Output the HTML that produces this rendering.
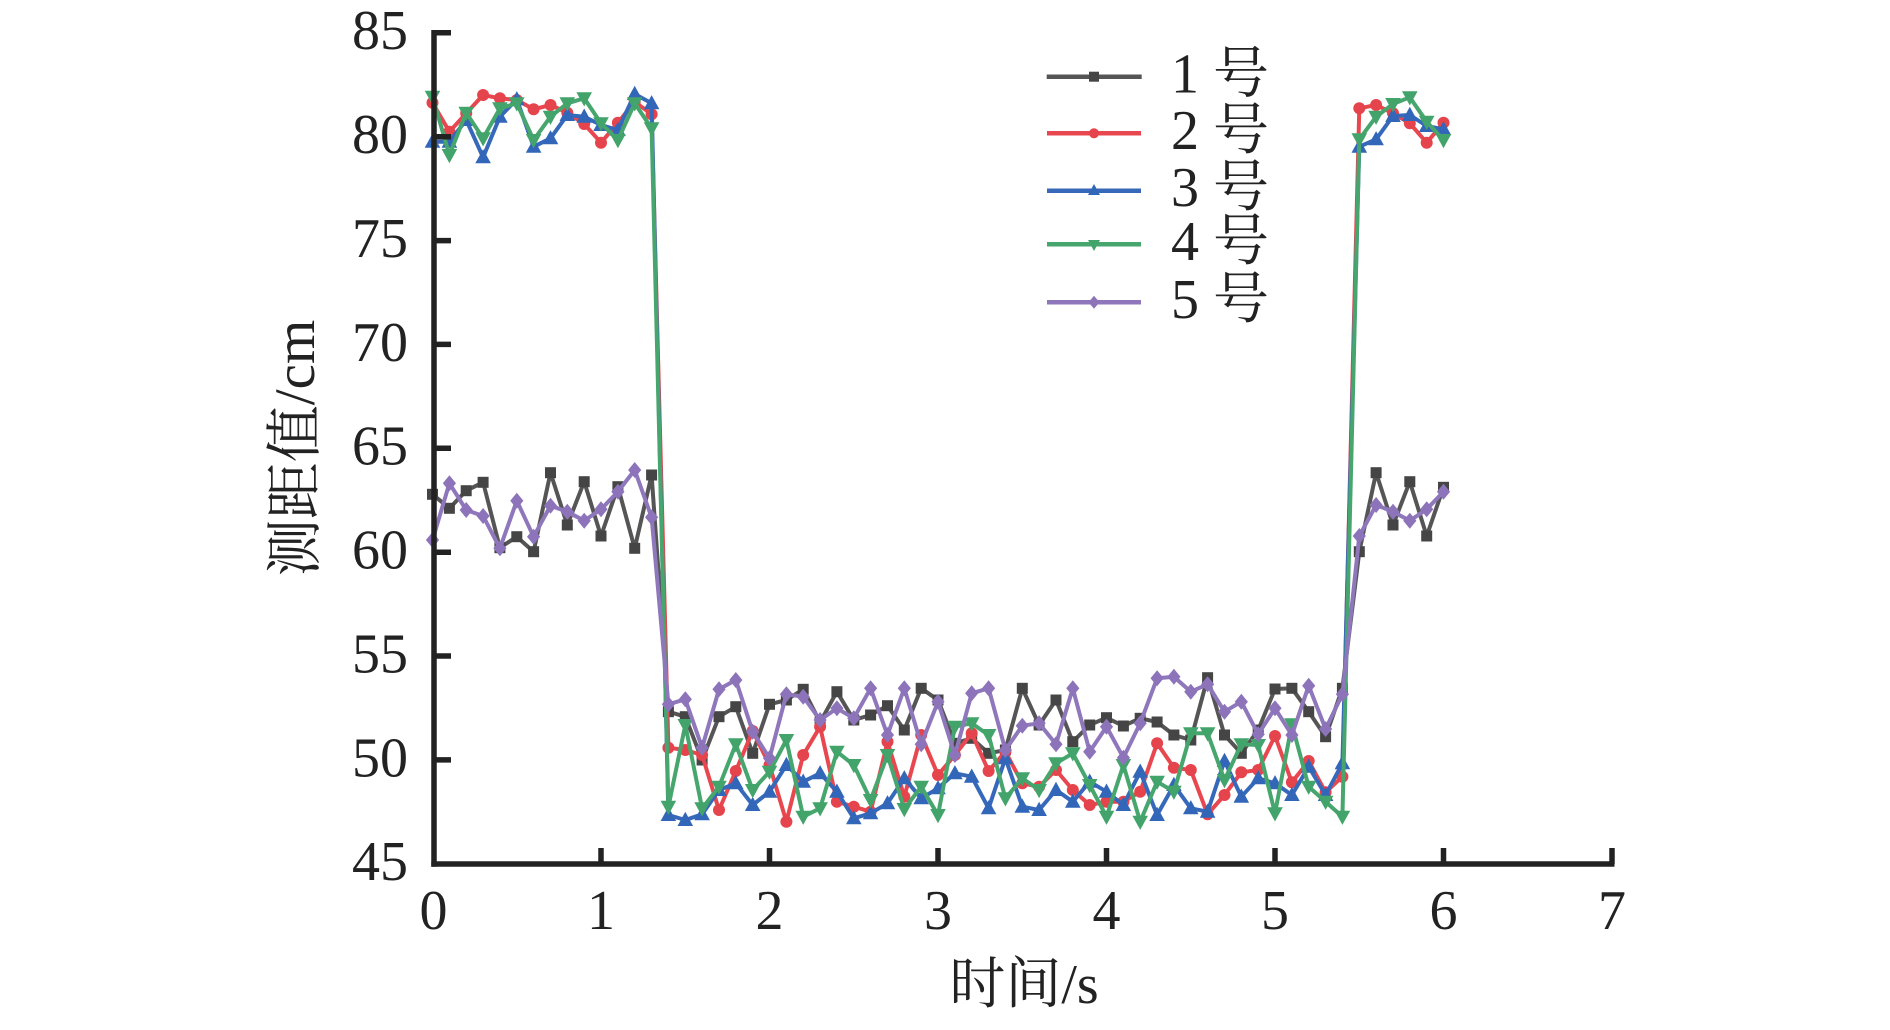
<!DOCTYPE html>
<html><head><meta charset="utf-8"><style>
html,body{margin:0;padding:0;background:#fff;}
svg{display:block;}
text{font-family:"Liberation Serif","Noto Serif CJK SC",serif;fill:#222;}
</style></head><body>
<svg width="1890" height="1030" viewBox="0 0 1890 1030" xmlns="http://www.w3.org/2000/svg">
<defs>
<marker id="mSq" viewBox="-8 -8 16 16" markerWidth="16" markerHeight="16" refX="0" refY="0" markerUnits="userSpaceOnUse"><rect x="-5.5" y="-5.5" width="11" height="11" fill="#454545"/></marker>
<marker id="mCi" viewBox="-8 -8 16 16" markerWidth="16" markerHeight="16" refX="0" refY="0" markerUnits="userSpaceOnUse"><circle r="6" fill="#e5444c"/></marker>
<marker id="mUp" viewBox="-10 -10 20 20" markerWidth="20" markerHeight="20" refX="0" refY="0" markerUnits="userSpaceOnUse"><polygon points="0,-8.2 7.8,6 -7.8,6" fill="#3266b8"/></marker>
<marker id="mDn" viewBox="-10 -10 20 20" markerWidth="20" markerHeight="20" refX="0" refY="0" markerUnits="userSpaceOnUse"><polygon points="0,8.2 7.8,-6 -7.8,-6" fill="#42a46a"/></marker>
<marker id="mDi" viewBox="-10 -10 20 20" markerWidth="20" markerHeight="20" refX="0" refY="0" markerUnits="userSpaceOnUse"><polygon points="0,-8 6.6,0 0,8 -6.6,0" fill="#8d74ba"/></marker>
</defs>

<!-- series 1 gray -->
<polyline fill="none" stroke="#555" stroke-width="4" stroke-linejoin="round" marker-start="url(#mSq)" marker-mid="url(#mSq)" marker-end="url(#mSq)" points="432.5,494.3 449.4,508.3 466.2,490.7 483.1,482.3 499.9,547.7 516.8,536.7 533.6,551.7 550.5,472.7 567.3,525.0 584.2,481.7 601.0,536.0 617.9,486.7 634.7,548.3 651.6,475.0 668.4,711.7 685.3,716.7 702.1,760.0 719.0,716.7 735.8,706.7 752.7,753.3 769.5,704.3 786.4,700.0 803.2,689.3 820.1,722.3 836.9,691.7 853.8,720.0 870.6,715.0 887.5,705.7 904.3,730.0 921.2,688.3 938.0,700.0 954.9,743.3 971.7,738.3 988.6,753.3 1005.4,750.0 1022.3,688.3 1039.1,725.0 1056.0,700.0 1072.8,741.7 1089.7,725.0 1106.5,717.7 1123.4,726.0 1140.2,718.3 1157.1,722.0 1173.9,735.0 1190.8,740.0 1207.6,677.7 1224.5,735.0 1241.3,753.3 1258.2,730.0 1275.0,689.0 1291.9,688.3 1308.7,711.7 1325.6,736.7 1342.4,688.3 1359.3,551.7 1376.1,472.7 1393.0,525.0 1409.8,481.7 1426.7,536.0 1443.5,487.3"/>

<!-- series 2 red -->
<polyline fill="none" stroke="#e8474f" stroke-width="4" stroke-linejoin="round" marker-start="url(#mCi)" marker-mid="url(#mCi)" marker-end="url(#mCi)" points="432.5,102.7 449.4,131.7 466.2,113.3 483.1,95.0 499.9,98.3 516.8,100.0 533.6,109.3 550.5,105.0 567.3,112.7 584.2,124.0 601.0,142.7 617.9,122.7 634.7,101.7 651.6,114.3 668.4,747.7 685.3,750.0 702.1,755.0 719.0,810.0 735.8,771.0 752.7,731.0 769.5,765.0 786.4,821.7 803.2,755.0 820.1,726.7 836.9,801.7 853.8,806.7 870.6,811.7 887.5,741.7 904.3,796.7 921.2,735.0 938.0,775.0 954.9,755.0 971.7,733.3 988.6,771.0 1005.4,751.7 1022.3,783.3 1039.1,786.7 1056.0,770.0 1072.8,790.0 1089.7,805.0 1106.5,801.7 1123.4,801.7 1140.2,791.7 1157.1,743.3 1173.9,767.7 1190.8,770.0 1207.6,814.3 1224.5,795.0 1241.3,772.3 1258.2,770.0 1275.0,736.0 1291.9,782.3 1308.7,761.0 1325.6,792.3 1342.4,776.7 1359.3,108.3 1376.1,105.0 1393.0,113.3 1409.8,123.3 1426.7,142.7 1443.5,122.7"/>

<!-- series 3 blue -->
<polyline fill="none" stroke="#3769ba" stroke-width="4" stroke-linejoin="round" marker-start="url(#mUp)" marker-mid="url(#mUp)" marker-end="url(#mUp)" points="432.5,141.7 449.4,141.7 466.2,120.0 483.1,157.3 499.9,116.7 516.8,99.3 533.6,146.7 550.5,138.3 567.3,115.0 584.2,116.7 601.0,125.0 617.9,130.0 634.7,94.0 651.6,103.3 668.4,815.0 685.3,820.0 702.1,814.3 719.0,790.0 735.8,783.3 752.7,805.0 769.5,791.7 786.4,765.0 803.2,781.7 820.1,773.3 836.9,791.7 853.8,818.3 870.6,813.3 887.5,803.3 904.3,778.3 921.2,798.3 938.0,788.3 954.9,773.3 971.7,776.7 988.6,808.3 1005.4,758.3 1022.3,806.7 1039.1,810.0 1056.0,790.0 1072.8,801.7 1089.7,781.7 1106.5,791.7 1123.4,805.0 1140.2,771.7 1157.1,815.0 1173.9,785.0 1190.8,808.3 1207.6,811.7 1224.5,761.0 1241.3,796.7 1258.2,778.3 1275.0,783.3 1291.9,795.0 1308.7,766.7 1325.6,795.0 1342.4,763.3 1359.3,146.7 1376.1,139.3 1393.0,116.0 1409.8,115.0 1426.7,126.0 1443.5,129.3"/>

<!-- series 4 green -->
<polyline fill="none" stroke="#46a66d" stroke-width="4" stroke-linejoin="round" marker-start="url(#mDn)" marker-mid="url(#mDn)" marker-end="url(#mDn)" points="432.5,96.7 449.4,155.0 466.2,112.7 483.1,138.3 499.9,108.3 516.8,103.3 533.6,140.0 550.5,116.7 567.3,103.3 584.2,98.3 601.0,123.3 617.9,140.0 634.7,103.3 651.6,128.3 668.4,806.7 685.3,725.0 702.1,808.3 719.0,786.7 735.8,744.3 752.7,790.0 769.5,771.7 786.4,740.0 803.2,816.7 820.1,808.3 836.9,751.7 853.8,765.0 870.6,800.0 887.5,755.0 904.3,809.0 921.2,786.7 938.0,815.0 954.9,726.7 971.7,723.3 988.6,735.0 1005.4,798.3 1022.3,778.3 1039.1,790.0 1056.0,763.3 1072.8,753.3 1089.7,785.0 1106.5,816.7 1123.4,765.0 1140.2,821.7 1157.1,781.7 1173.9,791.7 1190.8,733.3 1207.6,733.3 1224.5,780.0 1241.3,744.3 1258.2,745.0 1275.0,813.3 1291.9,724.3 1308.7,786.7 1325.6,801.7 1342.4,816.7 1359.3,139.3 1376.1,116.7 1393.0,104.0 1409.8,97.3 1426.7,121.7 1443.5,140.0"/>

<!-- series 5 purple -->
<polyline fill="none" stroke="#8f77bc" stroke-width="4" stroke-linejoin="round" marker-start="url(#mDi)" marker-mid="url(#mDi)" marker-end="url(#mDi)" points="432.5,540.0 449.4,483.3 466.2,510.0 483.1,516.0 499.9,548.3 516.8,500.7 533.6,536.7 550.5,505.7 567.3,511.7 584.2,520.7 601.0,509.3 617.9,491.7 634.7,470.0 651.6,517.3 668.4,704.3 685.3,699.3 702.1,747.7 719.0,689.3 735.8,680.0 752.7,731.7 769.5,758.3 786.4,694.3 803.2,696.7 820.1,720.0 836.9,708.3 853.8,718.3 870.6,688.3 887.5,735.0 904.3,688.3 921.2,744.3 938.0,701.7 954.9,755.0 971.7,693.3 988.6,688.3 1005.4,750.0 1022.3,725.7 1039.1,723.3 1056.0,744.3 1072.8,688.3 1089.7,751.7 1106.5,726.7 1123.4,757.7 1140.2,723.3 1157.1,678.3 1173.9,676.7 1190.8,691.7 1207.6,684.3 1224.5,711.7 1241.3,701.7 1258.2,734.3 1275.0,708.3 1291.9,735.0 1308.7,685.7 1325.6,729.0 1342.4,694.3 1359.3,536.0 1376.1,505.0 1393.0,511.7 1409.8,520.7 1426.7,509.3 1443.5,491.7"/>

<!-- axes -->
<g stroke="#222" stroke-width="5.5" fill="none">
<line x1="434" y1="30" x2="434" y2="866.7"/>
<line x1="431.3" y1="864" x2="1614.5" y2="864"/>
<line x1="434" y1="32.8" x2="451" y2="32.8"/>
<line x1="434" y1="136.7" x2="451" y2="136.7"/>
<line x1="434" y1="240.6" x2="451" y2="240.6"/>
<line x1="434" y1="344.4" x2="451" y2="344.4"/>
<line x1="434" y1="448.3" x2="451" y2="448.3"/>
<line x1="434" y1="552.2" x2="451" y2="552.2"/>
<line x1="434" y1="656.0" x2="451" y2="656.0"/>
<line x1="434" y1="759.9" x2="451" y2="759.9"/>
<line x1="601" y1="864" x2="601" y2="848"/>
<line x1="769.5" y1="864" x2="769.5" y2="848"/>
<line x1="938" y1="864" x2="938" y2="848"/>
<line x1="1106.5" y1="864" x2="1106.5" y2="848"/>
<line x1="1275" y1="864" x2="1275" y2="848"/>
<line x1="1443.5" y1="864" x2="1443.5" y2="848"/>
<line x1="1612" y1="864" x2="1612" y2="848"/>
</g>

<!-- y tick labels -->
<g font-size="56" text-anchor="end">
<text x="408" y="49.2">85</text>
<text x="408" y="153.1">80</text>
<text x="408" y="257.0">75</text>
<text x="408" y="360.8">70</text>
<text x="408" y="464.7">65</text>
<text x="408" y="568.6">60</text>
<text x="408" y="672.4">55</text>
<text x="408" y="776.3">50</text>
<text x="408" y="880.2">45</text>
</g>

<!-- x tick labels -->
<g font-size="56" text-anchor="middle">
<text x="433.5" y="929">0</text>
<text x="601" y="929">1</text>
<text x="769.5" y="929">2</text>
<text x="938" y="929">3</text>
<text x="1106.5" y="929">4</text>
<text x="1275" y="929">5</text>
<text x="1443.5" y="929">6</text>
<text x="1612" y="929">7</text>
</g>

<!-- axis titles -->
<text x="1024" y="1003" font-size="56" text-anchor="middle">时间/s</text>
<text transform="translate(314,448) rotate(-90)" font-size="57" text-anchor="middle">测距值/cm</text>

<!-- legend -->
<g stroke-width="4.5" fill="none">
<line x1="1046.7" y1="76.7" x2="1141.7" y2="76.7" stroke="#555"/>
<line x1="1047" y1="133.3" x2="1141" y2="133.3" stroke="#e8474f"/>
<line x1="1047" y1="190.7" x2="1141" y2="190.7" stroke="#3769ba"/>
<line x1="1047" y1="244.3" x2="1141" y2="244.3" stroke="#46a66d"/>
<line x1="1047" y1="302.3" x2="1141" y2="302.3" stroke="#8f77bc"/>
</g>
<rect x="1089" y="71.7" width="10" height="10" fill="#454545"/>
<circle cx="1094" cy="133.3" r="5" fill="#e5444c"/>
<polygon points="1094,184 1100,195 1088,195" fill="#3266b8"/>
<polygon points="1094,251 1100,240 1088,240" fill="#42a46a"/>
<polygon points="1094,295.8 1099.5,302.3 1094,308.8 1088.5,302.3" fill="#8d74ba"/>
<g font-size="56">
<text x="1171" y="92.5">1 号</text>
<text x="1171" y="149">2 号</text>
<text x="1171" y="206">3 号</text>
<text x="1171" y="260">4 号</text>
<text x="1171" y="318">5 号</text>
</g>
</svg>
</body></html>
